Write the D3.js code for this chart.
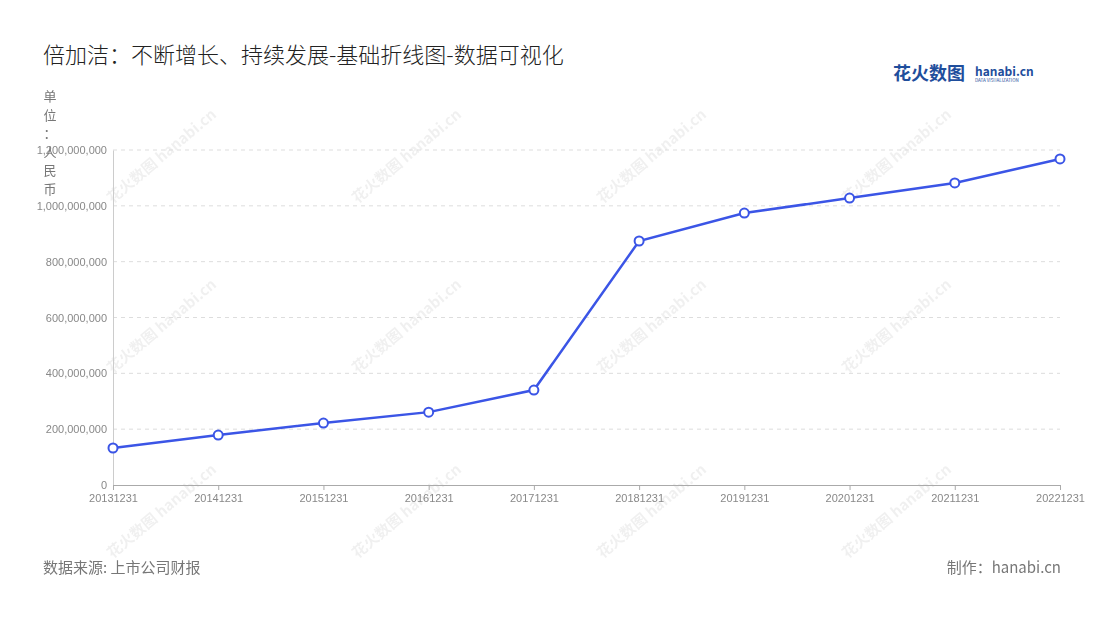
<!DOCTYPE html>
<html><head><meta charset="utf-8">
<script src="https://cdn.jsdelivr.net/npm/d3@7/dist/d3.min.js"></script>
<style>body{margin:0;background:#fff;font-family:"Noto Sans CJK SC","Noto Sans",sans-serif}</style>
</head><body><svg id="c" width="1100" height="620"></svg>
<script>
const categories=["20131231","20141231","20151231","20161231","20171231","20181231","20191231","20201231","20211231","20221231"];
const values=[132500000,179000000,222000000,261000000,340000000,874000000,974000000,1028000000,1082000000,1168000000];
const yTicks=[0,200000000,400000000,600000000,800000000,1000000000,1200000000];
const svg=d3.select("#c");
const L=113,R=1060,T=150,B=485;
const x=d3.scalePoint().domain(categories).range([L,R]);
const y=d3.scaleLinear().domain([0,1200000000]).range([B,T]);
svg.append("text").attr("x",43).attr("y",63).attr("font-size",22).attr("font-weight",300).attr("fill","#222").text("倍加洁：不断增长、持续发展-基础折线图-数据可视化");
// logo
svg.append("text").attr("x",893).attr("y",80).attr("font-size",18).attr("font-weight","bold").attr("fill","#1f4e9c").text("花火数图");
svg.append("text").attr("x",975).attr("y",76).attr("font-size",12).attr("font-weight","bold").attr("fill","#1f4e9c").text("hanabi.cn");
svg.append("text").attr("x",975).attr("y",82).attr("font-size",4.5).attr("fill","#1f4e9c").text("DATA VISUALIZATION");
// watermarks
const wm=svg.append("g").attr("fill","#000").attr("opacity",0.06).attr("font-size",15).attr("font-weight","bold");
[[165,160],[410,160],[655,160],[900,160],[165,330],[410,330],[655,330],[900,330],[165,515],[410,515],[655,515],[900,515]].forEach(p=>{
 wm.append("text").attr("transform",`translate(${p[0]},${p[1]}) rotate(-40)`).attr("text-anchor","middle").text("花火数图 hanabi.cn");});
// grid
svg.append("g").selectAll("line").data(yTicks.slice(1)).join("line").attr("x1",L).attr("x2",R).attr("y1",d=>y(d)).attr("y2",d=>y(d)).attr("stroke","#ddd").attr("stroke-dasharray","4,4");
const ya=svg.append("g").attr("transform",`translate(${L},0)`).call(d3.axisLeft(y).tickValues(yTicks).tickFormat(d3.format(",")).tickSize(0).tickPadding(6));
ya.select(".domain").attr("stroke","#ccc");
ya.selectAll("text").attr("fill","#888").attr("font-size",11);
const xa=svg.append("g").attr("transform",`translate(0,${B})`).call(d3.axisBottom(x).tickSize(5).tickPadding(4));
xa.select(".domain").attr("stroke","#aaa");xa.selectAll("line").attr("stroke","#aaa");
xa.selectAll("text").attr("fill","#888").attr("font-size",11);
// unit label vertical
"单位：人民币".split("").forEach((c,i)=>svg.append("text").attr("x",50).attr("y",101+i*18.5).attr("text-anchor","middle").attr("font-size",13).attr("fill","#777").text(c));
svg.append("path").datum(values).attr("fill","none").attr("stroke","#3b55e6").attr("stroke-width",2.5)
 .attr("d",d3.line().x((d,i)=>x(categories[i])).y(d=>y(d)));
svg.append("g").selectAll("circle").data(values).join("circle").attr("cx",(d,i)=>x(categories[i])).attr("cy",d=>y(d)).attr("r",4.5).attr("fill","#fff").attr("stroke","#3b55e6").attr("stroke-width",2);
svg.append("text").attr("x",43).attr("y",573).attr("font-size",15).attr("fill","#777").text("数据来源: 上市公司财报");
svg.append("text").attr("x",1061).attr("y",573).attr("text-anchor","end").attr("font-size",15).attr("fill","#777").text("制作：hanabi.cn");
</script></body></html>
